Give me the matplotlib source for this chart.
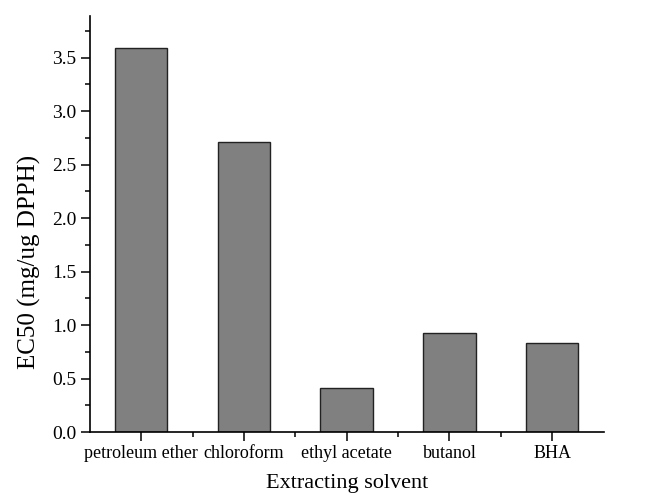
import matplotlib
matplotlib.use("Agg")
import matplotlib.pyplot as plt
from matplotlib.ticker import MultipleLocator, FormatStrFormatter

# EC50 of each extract against DPPH
solvents = ["petroleum ether", "chloroform", "ethyl acetate", "butanol", "BHA"]
ec50 = [3.59, 2.71, 0.41, 0.93, 0.83]

plt.rcParams["font.family"] = ["Liberation Serif", "DejaVu Serif"]

fig = plt.figure(figsize=(6.56, 4.95), dpi=100)
ax = fig.add_axes([0.137, 0.127, 0.783, 0.841])

x = list(range(len(solvents)))
ax.bar(x, ec50, width=0.51, color="#808080", edgecolor="#222222", linewidth=1.0, zorder=2)

ax.set_xlim(-0.5, len(solvents) - 0.5)
ax.set_ylim(0, 3.89)
ax.set_xticks(x)
ax.set_xticklabels(solvents, fontsize=13)
ax.set_xticks([i + 0.5 for i in x[:-1]], minor=True)
ax.yaxis.set_major_locator(MultipleLocator(0.5))
ax.yaxis.set_minor_locator(MultipleLocator(0.25))
ax.yaxis.set_major_formatter(FormatStrFormatter("%.1f"))
ax.tick_params(axis="y", labelsize=14, pad=3)
ax.tick_params(axis="x", pad=3)

ax.tick_params(which="major", direction="out", length=6.5, width=1.1)
ax.tick_params(which="minor", direction="out", length=3.3, width=1.1)

for side in ("top", "right"):
    ax.spines[side].set_visible(False)
for side in ("left", "bottom"):
    ax.spines[side].set_linewidth(1.2)

ax.set_xlabel("Extracting solvent", fontsize=16, labelpad=8.5)
ax.set_ylabel("EC50 (mg/ug DPPH)", fontsize=18, labelpad=8, y=0.41)

fig.savefig("out.png", dpi=100)
